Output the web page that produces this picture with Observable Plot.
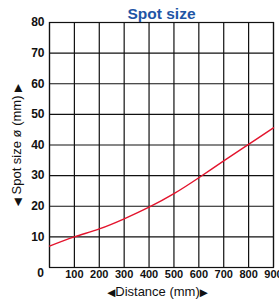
<!DOCTYPE html>
<html>
<head>
<meta charset="utf-8">
<script src="https://cdn.jsdelivr.net/npm/d3@7"></script>
<script src="https://cdn.jsdelivr.net/npm/@observablehq/plot@0.6"></script>
<style>
  html, body { margin: 0; padding: 0; background: #fff; }
  svg { display: block; }
</style>
</head>
<body>
<div id="chart"></div>
<script>
const distance = [0, 100, 200, 300, 400, 500, 600, 700, 800, 900];
const spotSize = [7.0, 10.0, 12.6, 15.9, 19.7, 24.1, 29.3, 34.8, 40.2, 45.6];
const xTicks = [100, 200, 300, 400, 500, 600, 700, 800, 900];
const yTicks = [10, 20, 30, 40, 50, 60, 70, 80];
const gridXValues = [0, 100, 200, 300, 400, 500, 600, 700, 800, 900];
const gridYValues = [0, 10, 20, 30, 40, 50, 60, 70, 80];
const title = "Spot size";
const xLabel = "◀Distance (mm)▶";
const yLabel = "◀ Spot size ø (mm) ▶";

const data = distance.map((d, i) => ({distance: d, size: spotSize[i]}));
const font = "'Liberation Sans', Arial, sans-serif";

const chart = Plot.plot({
  width: 279,
  height: 301,
  marginLeft: 49,
  marginRight: 6,
  marginTop: 22,
  marginBottom: 34,
  style: {fontFamily: font, background: "#fff", overflow: "hidden"},
  x: {domain: [0, 900]},
  y: {domain: [0, 80]},
  marks: [
    Plot.gridX(gridXValues, {stroke: "#111", strokeOpacity: 1, strokeWidth: 1.2}),
    Plot.gridY(gridYValues, {stroke: "#111", strokeOpacity: 1, strokeWidth: 1.2}),
    Plot.frame({stroke: "#111", strokeWidth: 1.2}),
    Plot.axisY({ticks: yTicks, tickSize: 0, tickPadding: 5, fontSize: 12, fontWeight: "bold", label: null, fill: "#111"}),
    Plot.axisX({ticks: xTicks, tickSize: 0, tickPadding: 3, fontSize: 11, fontWeight: "bold", label: null, fill: "#111"}),
    Plot.text([0], {x: 0, y: 0, text: d => String(d), dx: -9, dy: 6, fontSize: 12, fontWeight: "bold", fill: "#111"}),
    Plot.line(data, {x: "distance", y: "size", curve: "natural", stroke: "#e3142d", strokeWidth: 1.4}),
    Plot.text([title], {frameAnchor: "top", lineAnchor: "bottom", dy: -4, fontSize: 15.5, fontWeight: "bold", fill: "#1e55a5"}),
    Plot.text([yLabel], {frameAnchor: "left", textAnchor: "middle", rotate: -90, dx: -33, fontSize: 13, fill: "#111"}),
    Plot.text([xLabel], {frameAnchor: "bottom", textAnchor: "middle", lineAnchor: "middle", dy: 24, dx: -4, fontSize: 13, fill: "#111"})
  ]
});

// shrink the arrow glyphs inside the axis labels
d3.select(chart).selectAll("text").each(function() {
  const t = this.textContent;
  if (!/[◀▶]/.test(t) || this.children.length) return;
  const parts = t.split(/([◀▶])/).filter(s => s.length);
  this.textContent = "";
  for (const p of parts) {
    const ts = document.createElementNS("http://www.w3.org/2000/svg", "tspan");
    ts.textContent = p;
    if (p === "◀" || p === "▶") {
      ts.setAttribute("font-size", "10.5");
      ts.setAttribute("font-family", "DejaVu Sans");
    }
    this.appendChild(ts);
  }
});
document.getElementById("chart").appendChild(chart);
</script>
</body>
</html>
